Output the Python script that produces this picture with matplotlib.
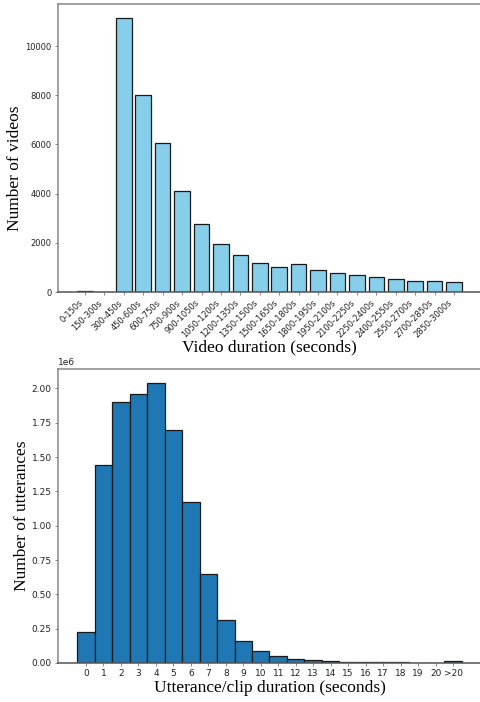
import numpy as np
import matplotlib
matplotlib.use("Agg")
import matplotlib.pyplot as plt

# video duration bins (top panel)
video_bins = ["0-150s", "150-300s", "300-450s", "450-600s", "600-750s", "750-900s",
              "900-1050s", "1050-1200s", "1200-1350s", "1350-1500s", "1500-1650s",
              "1650-1800s", "1800-1950s", "1950-2100s", "2100-2250s", "2250-2400s",
              "2400-2550s", "2550-2700s", "2700-2850s", "2850-3000s"]
video_counts = [30, 20, 11150, 8000, 6070, 4100, 2770, 1940, 1490, 1165, 1030,
                1125, 895, 785, 680, 600, 515, 450, 435, 395]

# utterance duration histogram (bottom panel)
utt_labels = [str(i) for i in range(21)] + [">20"]
utt_counts = [0.223e6, 1.444e6, 1.903e6, 1.959e6, 2.039e6, 1.697e6, 1.175e6,
              0.646e6, 0.311e6, 0.158e6, 0.087e6, 0.049e6, 0.029e6, 0.019e6,
              0.013e6, 0.009e6, 0.006e6, 0.005e6, 0.004e6, 0.003e6, 0.002e6,
              0.012e6]

W, H = 481, 702
fig = plt.figure(figsize=(W / 100, H / 100), dpi=100)

serif = "Liberation Serif"
spine_col = "#888888"


def style_axes(ax, size):
    ax.spines["right"].set_visible(False)
    for s in ["left", "top", "bottom"]:
        ax.spines[s].set_color(spine_col)
        ax.spines[s].set_linewidth(1.1)
    ax.spines["bottom"].set_color("#555555")
    ax.tick_params(labelsize=size, length=2.5, width=0.7, color=spine_col,
                   labelcolor="#222222", pad=2)


# top panel
ax1 = fig.add_axes([58 / W, 1 - 292 / H, 1 - 58 / W, (292 - 4) / H])
x1 = np.arange(len(video_bins))
ax1.bar(x1, video_counts, width=0.8, color="skyblue", edgecolor="#1a1a1a", linewidth=0.9)
ax1.set_xticks(x1)
ax1.set_xticklabels(video_bins, rotation=45, ha="right")
style_axes(ax1, 6)
ax1.set_ylabel("Number of videos", family=serif, fontsize=12.5, labelpad=1.5)
ax1.yaxis.label.set_y(0.43)
ax1.set_xlabel("Video duration (seconds)", family=serif, fontsize=12.5, labelpad=0)

# bottom panel
ax2 = fig.add_axes([58 / W, 1 - 663 / H, 1 - 58 / W, (663 - 369) / H])
x2 = np.arange(len(utt_labels))
ax2.bar(x2, utt_counts, width=1.0, color="#1f77b4", edgecolor="#1a1a1a", linewidth=0.9)
ax2.set_xticks(x2)
ax2.set_xticklabels(utt_labels)
style_axes(ax2, 6.5)
ax2.yaxis.get_offset_text().set_fontsize(6.5)
ax2.set_ylabel("Number of utterances", family=serif, fontsize=12.5, labelpad=1.5)
ax2.set_xlabel("Utterance/clip duration (seconds)", family=serif, fontsize=12.5, labelpad=1)

fig.savefig("out.png", dpi=100)
